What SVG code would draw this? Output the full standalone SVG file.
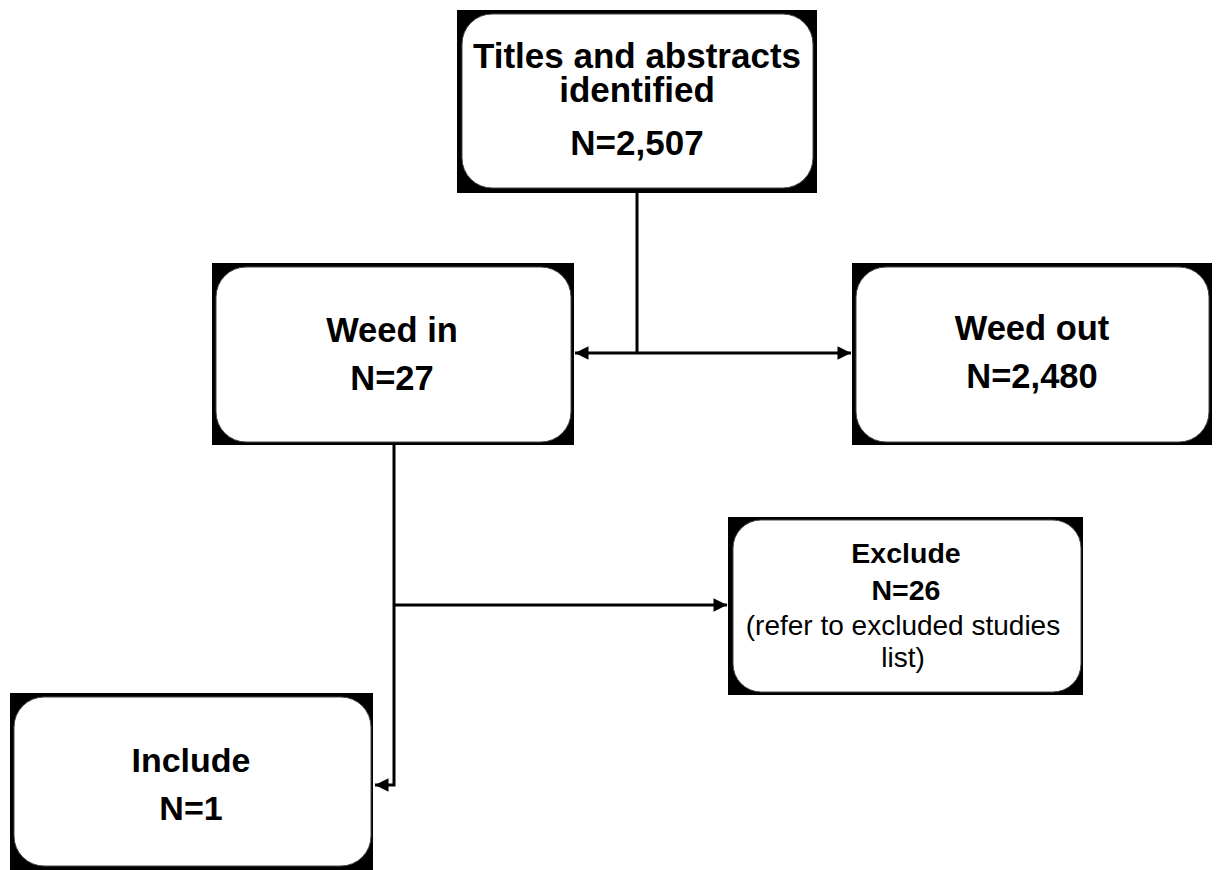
<svg xmlns="http://www.w3.org/2000/svg" width="1217" height="870" viewBox="0 0 1217 870">
<style>
.bg{fill:#000}
.box{fill:#fff;stroke:#444;stroke-width:1}
.t{font-family:"Liberation Sans",Arial,sans-serif;font-weight:bold;fill:#000;text-anchor:middle}
.r{font-family:"Liberation Sans",Arial,sans-serif;fill:#000;text-anchor:middle}
.c{fill:none;stroke:#000;stroke-width:3}
</style>
<defs>
<marker id="ah" viewBox="0 0 10 10" refX="10" refY="5" markerWidth="5" markerHeight="4.5" markerUnits="strokeWidth" orient="auto-start-reverse">
<path d="M0,0 L10,5 L0,10 z" fill="#000"/>
</marker>
</defs>
<rect width="1217" height="870" fill="#fff"/>
<g id="connectors">
<path class="c" d="M637,192 V353"/>
<path class="c" d="M575,353 H851" marker-start="url(#ah)" marker-end="url(#ah)"/>
<path class="c" d="M394,445 V785 H375" marker-end="url(#ah)"/>
<path class="c" d="M394,605 H727" marker-end="url(#ah)"/>
</g>
<g id="n1">
<rect class="bg" x="457" y="10" width="360" height="183"/>
<rect class="box" x="462" y="14" width="351" height="174" rx="30"/>
<text class="t" x="637" y="68" font-size="35">Titles and abstracts</text>
<text class="t" x="637" y="102" font-size="35">identified</text>
<text class="t" x="637" y="155" font-size="35">N=2,507</text>
</g>
<g id="n2">
<rect class="bg" x="212" y="263" width="362" height="182"/>
<rect class="box" x="216" y="267" width="355" height="175" rx="30"/>
<text class="t" x="392" y="342" font-size="34.5">Weed in</text>
<text class="t" x="392" y="390" font-size="34.5">N=27</text>
</g>
<g id="n3">
<rect class="bg" x="852" y="263" width="360" height="182"/>
<rect class="box" x="856" y="267" width="353" height="175" rx="30"/>
<text class="t" x="1032" y="340" font-size="34.5">Weed out</text>
<text class="t" x="1032" y="388" font-size="34.5">N=2,480</text>
</g>
<g id="n4">
<rect class="bg" x="728" y="517" width="355" height="178"/>
<rect class="box" x="733" y="520" width="348" height="172" rx="28"/>
<text class="t" x="906" y="563" font-size="28.5">Exclude</text>
<text class="t" x="906" y="600" font-size="28.5">N=26</text>
<text class="r" x="903" y="635" font-size="28">(refer to excluded studies</text>
<text class="r" x="903" y="667" font-size="28">list)</text>
</g>
<g id="n5">
<rect class="bg" x="10" y="693" width="363" height="177"/>
<rect class="box" x="14" y="697" width="357" height="169" rx="30"/>
<text class="t" x="191" y="772" font-size="34">Include</text>
<text class="t" x="191" y="820" font-size="34">N=1</text>
</g>
</svg>
